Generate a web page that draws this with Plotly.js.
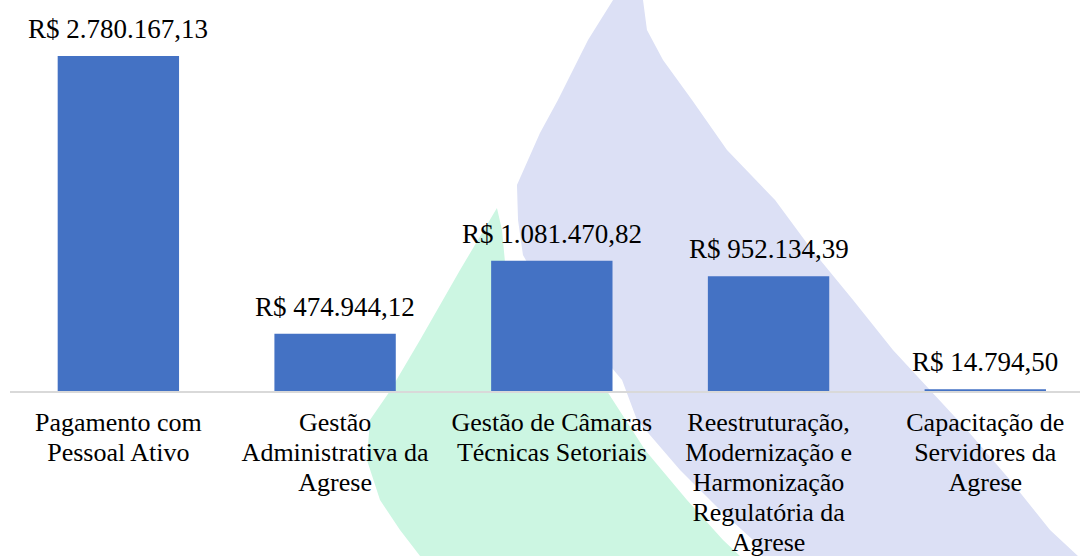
<!DOCTYPE html>
<html>
<head>
<meta charset="utf-8">
<script src="https://cdn.plot.ly/plotly-3.0.1.min.js"></script>
<style>html,body{margin:0;padding:0;background:#fff;}#chart{width:1080px;height:556px;}</style>
</head>
<body>
<div id="chart"></div>
<script>
// ---- data ----
const linhasCategoria = [
  ["Pagamento com", "Pessoal Ativo"],
  ["Gestão", "Administrativa da", "Agrese"],
  ["Gestão de Câmaras", "Técnicas Setoriais"],
  ["Reestruturação,", "Modernização e", "Harmonização", "Regulatória da", "Agrese"],
  ["Capacitação de", "Servidores da", "Agrese"]
];
const categorias = linhasCategoria.map(l => l.join(" "));
const valores = [2780167.13, 474944.12, 1081470.82, 952134.39, 14794.50];

function brl(v) {
  const parts = v.toFixed(2).split(".");
  return "R$ " + parts[0].replace(/\B(?=(\d{3})+(?!\d))/g, ".") + "," + parts[1];
}

// ---- layout geometry ----
const W = 1080, H = 556;
const M = {l: 10, r: 0, t: 20, b: 165};
const pw = W - M.l - M.r, ph = H - M.t - M.b;
function P(x, y) { return ((x - M.l) / pw).toFixed(4) + "," + ((H - M.b - y) / ph).toFixed(4); }
function path(pts) { return "M" + pts.map(p => P(p[0], p[1])).join(" L") + " Z"; }

// watermark decoration (pixel outlines)
const lavanda = [[613,0],[643,0],[647,30],[663,60],[692,100],[727,150],[775,200],[812,250],[853,300],[893,350],[930,390],[967,430],[1010,480],[1050,530],[1078,556],
  [762,556],[753,540],[720,510],[680,470],[637,420],[622,380],[580,330],[540,285],[523,255],[518,220],[517,185],[540,133],[558,100],[588,40]];
const verde = [[497,208],[502,230],[505,262],[560,330],[607,391],[645,450],[687,500],[723,540],[740,556],
  [420,556],[400,530],[380,500],[367,460],[370,420],[390,391],[420,340],[460,270]];

const fonte = "Liberation Serif";

const trace = {
  type: "bar",
  x: categorias,
  y: valores,
  marker: {color: "#4472C4"},
  width: 0.56,
  hoverinfo: "skip"
};

const layout = {
  width: W, height: H,
  margin: M,
  paper_bgcolor: "#ffffff",
  plot_bgcolor: "rgba(0,0,0,0)",
  showlegend: false,
  font: {family: fonte, color: "#000000"},
  xaxis: {
    type: "category",
    range: [-0.5, 4.437],
    tickvals: categorias,
    ticktext: linhasCategoria.map(l => l.map(s => '<span style="font-size:26px">' + s + '</span>').join("<br>")),
    tickangle: 0,
    tickfont: {family: fonte, size: 23, color: "#000000"},
    ticks: "",
    ticklabelstandoff: 11,
    showline: true,
    linecolor: "#D9D9D9",
    linewidth: 1.5,
    showgrid: false,
    zeroline: false,
    fixedrange: true
  },
  yaxis: {
    range: [0, 3.079e6],
    visible: false,
    showgrid: false,
    zeroline: false,
    fixedrange: true
  },
  shapes: [
    {type: "path", xref: "paper", yref: "paper", path: path(lavanda), fillcolor: "#DCE0F5", line: {width: 0}, layer: "below"},
    {type: "path", xref: "paper", yref: "paper", path: path(verde), fillcolor: "#CCF6E2", line: {width: 0}, layer: "below"}
  ],
  annotations: valores.map((v, i) => ({
    x: categorias[i], y: v, xref: "x", yref: "y",
    text: brl(v), showarrow: false,
    yanchor: "bottom", yshift: 10,
    font: {family: fonte, size: 27, color: "#000000"}
  }))
};

Plotly.newPlot("chart", [trace], layout, {displayModeBar: false, staticPlot: true});
</script>
</body>
</html>
